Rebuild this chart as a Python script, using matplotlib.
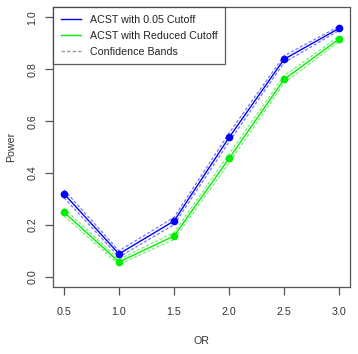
import matplotlib
matplotlib.use("Agg")
import matplotlib.pyplot as plt
from matplotlib.lines import Line2D

plt.rcParams['font.family'] = ['Liberation Sans', 'DejaVu Sans']

odds_ratio = [0.5, 1.0, 1.5, 2.0, 2.5, 3.0]
power_005 = [0.320, 0.088, 0.215, 0.537, 0.839, 0.958]
power_005_lo = [0.305, 0.076, 0.201, 0.520, 0.826, 0.950]
power_005_hi = [0.335, 0.100, 0.229, 0.554, 0.852, 0.966]
power_red = [0.249, 0.057, 0.157, 0.456, 0.761, 0.917]
power_red_lo = [0.235, 0.047, 0.144, 0.439, 0.747, 0.907]
power_red_hi = [0.263, 0.067, 0.170, 0.473, 0.775, 0.927]
x_ticks = [0.5, 1.0, 1.5, 2.0, 2.5, 3.0]
y_ticks = [0.0, 0.2, 0.4, 0.6, 0.8, 1.0]

fig = plt.figure(figsize=(3.58, 3.54), dpi=100)
ax = fig.add_axes([0.148, 0.189, 0.830, 0.791])

band_style = dict(lw=0.9, ls=(0, (2.5, 1.5)), zorder=2)
ax.plot(odds_ratio, power_005, color='#0000FF', lw=1, marker='o', ms=4.5,
        label='ACST with 0.05 Cutoff', zorder=3)
ax.plot(odds_ratio, power_005_lo, color='#7777FF', **band_style)
ax.plot(odds_ratio, power_005_hi, color='#7777FF', **band_style)
ax.plot(odds_ratio, power_red, color='#00EE00', lw=1, marker='o', ms=4.5,
        label='ACST with Reduced Cutoff', zorder=3)
ax.plot(odds_ratio, power_red_lo, color='#77EE77', **band_style)
ax.plot(odds_ratio, power_red_hi, color='#77EE77', **band_style)

handles = [Line2D([], [], color='#0000FF', lw=1),
           Line2D([], [], color='#00EE00', lw=1),
           Line2D([], [], color='#999999', lw=1, ls=(0, (2.5, 1.5)))]
labels = ['ACST with 0.05 Cutoff', 'ACST with Reduced Cutoff', 'Confidence Bands']
leg = ax.legend(handles, labels, loc='upper left', bbox_to_anchor=(0, 1),
                borderaxespad=0, fancybox=False, fontsize=7.7, handlelength=1.9,
                handletextpad=0.8, labelspacing=0.55, borderpad=0.72)
leg.get_frame().set_edgecolor('#333333')
leg.get_frame().set_linewidth(0.9)
for t in leg.get_texts():
    t.set_color('#222222')

ax.set_xlim(0.4, 3.1)
ax.set_ylim(-0.04, 1.04)
ax.set_xticks(x_ticks)
ax.set_xticklabels([f'{v:.1f}' for v in x_ticks])
ax.set_yticks(y_ticks)
ax.set_yticklabels([f'{v:.1f}' for v in y_ticks], rotation=90, va='center')

for s in ax.spines.values():
    s.set_color('#555555')
    s.set_linewidth(0.9)
ax.tick_params(axis='both', direction='out', length=6, width=0.9, color='#555555',
               labelsize=7.7, labelcolor='#333333')
ax.tick_params(axis='x', pad=8)
ax.tick_params(axis='y', pad=5)
ax.set_xlabel('OR', fontsize=7.7, color='#333333', labelpad=14)
ax.set_ylabel('Power', fontsize=7.7, color='#333333', labelpad=8)

fig.savefig('out.png', dpi=100)
